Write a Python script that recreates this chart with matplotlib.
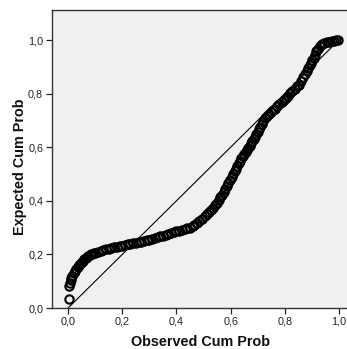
import numpy as np
import matplotlib
matplotlib.use("Agg")
import matplotlib.pyplot as plt
from matplotlib.ticker import FuncFormatter

# P-P plot points
obs_cum_prob = [
    0.002, 0.003, 0.006, 0.009, 0.012, 0.015, 0.020, 0.025, 0.030, 0.035,
    0.040, 0.045, 0.050, 0.055, 0.060, 0.065, 0.070, 0.075, 0.080, 0.085,
    0.090, 0.095,
    0.10, 0.11, 0.12, 0.13, 0.14, 0.15, 0.16, 0.17, 0.18, 0.19,
    0.20, 0.21, 0.22, 0.23, 0.24, 0.25, 0.26, 0.27, 0.28, 0.29,
    0.30, 0.31, 0.32, 0.33, 0.34, 0.35, 0.36, 0.37, 0.38, 0.39,
    0.40, 0.41, 0.42, 0.43, 0.44, 0.45, 0.46,
    0.465, 0.475, 0.485, 0.495, 0.505, 0.512, 0.520, 0.528, 0.535, 0.542,
    0.549, 0.556, 0.562, 0.568, 0.574, 0.580, 0.586, 0.592, 0.598, 0.604,
    0.610, 0.615, 0.620, 0.625, 0.630, 0.635, 0.640, 0.645, 0.650, 0.655,
    0.660, 0.665, 0.670, 0.675, 0.680, 0.685, 0.690, 0.695, 0.700, 0.705,
    0.710, 0.715, 0.720, 0.726, 0.733, 0.740, 0.748, 0.756, 0.764, 0.772,
    0.780, 0.788, 0.796, 0.804, 0.812, 0.820, 0.828, 0.836, 0.844, 0.852,
    0.860, 0.868, 0.875, 0.881, 0.887, 0.892, 0.897, 0.902, 0.907, 0.912,
    0.917, 0.923, 0.930, 0.938, 0.946, 0.955, 0.964, 0.973, 0.982, 0.990,
    0.996,
]
exp_cum_prob = [
    0.035, 0.082, 0.094, 0.104, 0.113, 0.120, 0.130, 0.138, 0.146, 0.153,
    0.160, 0.166, 0.172, 0.177, 0.182, 0.186, 0.190, 0.194, 0.197, 0.200,
    0.202, 0.204,
    0.206, 0.209, 0.213, 0.216, 0.219, 0.221, 0.224, 0.227, 0.229, 0.231,
    0.233, 0.235, 0.237, 0.239, 0.241, 0.243, 0.246, 0.248, 0.251, 0.253,
    0.255, 0.258, 0.261, 0.264, 0.267, 0.270, 0.273, 0.276, 0.279, 0.283,
    0.286, 0.289, 0.292, 0.294, 0.297, 0.300, 0.305,
    0.309, 0.316, 0.323, 0.332, 0.342, 0.350, 0.358, 0.366, 0.374, 0.383,
    0.393, 0.403, 0.413, 0.423, 0.433, 0.444, 0.456, 0.468, 0.479, 0.490,
    0.500, 0.510, 0.520, 0.530, 0.540, 0.549, 0.558, 0.566, 0.574, 0.582,
    0.590, 0.598, 0.606, 0.614, 0.622, 0.630, 0.639, 0.648, 0.657, 0.667,
    0.677, 0.688, 0.698, 0.708, 0.716, 0.723, 0.730, 0.737, 0.744, 0.752,
    0.760, 0.767, 0.775, 0.783, 0.792, 0.801, 0.810, 0.819, 0.827, 0.834,
    0.848, 0.862, 0.873, 0.884, 0.894, 0.905, 0.915, 0.924, 0.934, 0.945,
    0.958, 0.968, 0.977, 0.984, 0.989, 0.991, 0.994, 0.996, 0.998, 0.999,
    1.000,
]
ticks = [0.0, 0.2, 0.4, 0.6, 0.8, 1.0]

plt.rcParams["font.family"] = ["Liberation Sans", "DejaVu Sans"]
W, H = 347, 349
fig = plt.figure(figsize=(W / 100, H / 100), dpi=100)
ax = fig.add_axes([52 / W, (H - 308) / H, 297 / W, 298 / H])
ax.set_facecolor("#f0f0f0")

ax.plot([0, 1], [0, 1], color="black", lw=0.8, zorder=2)
ax.plot(obs_cum_prob, exp_cum_prob, ls="none", marker="o", ms=6.0,
        mfc="none", mec="black", mew=1.5, zorder=3)

ax.set_xlim(-0.0595, 1.037)
ax.set_ylim(0, 1.112)
ax.set_xticks(ticks)
ax.set_yticks(ticks)
fmt = FuncFormatter(lambda v, p: f"{v:.1f}".replace(".", ","))
ax.xaxis.set_major_formatter(fmt)
ax.yaxis.set_major_formatter(fmt)
ax.tick_params(length=4.3, width=0.9, color="#222222", labelsize=7.8,
               labelcolor="#222222", pad=2)

for s in ["left", "bottom", "top"]:
    ax.spines[s].set_color("#333333")
    ax.spines[s].set_linewidth(1.0)
ax.spines["right"].set_visible(False)

ax.set_xlabel("Observed Cum Prob", fontsize=10.4, fontweight="bold", color="#111111")
ax.set_ylabel("Expected Cum Prob", fontsize=10.4, fontweight="bold", color="#111111")
ax.xaxis.label.set_va("center")
ax.yaxis.label.set_va("center")
ax.xaxis.set_label_coords(0.5, (308 - 342) / 298)
ax.yaxis.set_label_coords((20 - 52) / 297, (308 - 167) / 298)

fig.savefig("out.png", dpi=100)
